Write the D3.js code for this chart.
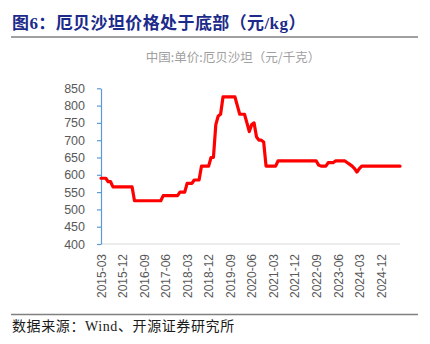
<!DOCTYPE html>
<html>
<head>
<meta charset="utf-8">
<script src="https://cdn.jsdelivr.net/npm/d3@7/dist/d3.min.js"></script>
<style>
  html, body { margin: 0; padding: 0; background: #fff; }
  svg { display: block; }
</style>
</head>
<body>
<svg id="chart" width="430" height="344"></svg>
<script>
// ---- data ----
const startMonth = "2015-03";
const values = [
  590, 590, 590, 580, 580,
  565, 565, 565, 565, 565, 565, 565, 565, 565,
  525, 525, 525, 525, 525, 525, 525, 525, 525, 525, 525, 525,
  540, 540, 540, 540, 540, 540, 540,
  550, 550, 550,
  575, 575, 575,
  585, 585, 585,
  625, 625, 625, 625,
  650, 650,
  745, 770, 775, 825,
  825, 825, 825, 825, 825,
  800, 775, 775, 775,
  750, 725, 745, 750, 710,
  700, 700, 695, 625,
  625, 625, 625, 625,
  640, 640, 640, 640, 640, 640, 640, 640, 640, 640, 640, 640, 640, 640, 640, 640, 640,
  628, 625, 625, 625,
  635, 635, 635,
  640, 640, 640, 640, 640,
  635, 630, 625, 618, 608, 618,
  625, 625, 625, 625, 625, 625, 625, 625, 625, 625, 625, 625, 625, 625, 625, 625, 625
];
const xTickLabels = ["2015-03","2015-12","2016-09","2017-06","2018-03","2018-12","2019-09",
                     "2020-06","2021-03","2021-12","2022-09","2023-06","2024-03","2024-12"];
const yTicks = [400, 450, 500, 550, 600, 650, 700, 750, 800, 850];
const titleText = "图6：厄贝沙坦价格处于底部（元/kg）";
const subtitleText = "中国:单价:厄贝沙坦（元/千克）";
const sourceText = "数据来源：Wind、开源证券研究所";

// categories (months)
const fmt = d3.timeFormat("%Y-%m");
const parse = d3.timeParse("%Y-%m");
const s0 = parse(startMonth);
const months = values.map((v, i) => fmt(d3.timeMonth.offset(s0, i)));
const data = months.map((m, i) => ({ m, v: values[i] }));

// ---- layout ----
const svg = d3.select("#chart");
const pL = 101, pR = 400, pT = 88.3, pB = 244;

const x = d3.scalePoint().domain(months).range([pL, pR]);
const y = d3.scaleLinear().domain([400, 850]).range([pB, pT]);

// title
svg.append("text")
  .attr("x", 12).attr("y", 29)
  .attr("font-family", "'Liberation Serif', 'Noto Sans CJK SC', serif")
  .attr("font-weight", "bold")
  .attr("font-size", 17)
  .attr("letter-spacing", 0.4)
  .attr("fill", "#1c2a8a")
  .text(titleText);

svg.append("line")
  .attr("x1", 11).attr("x2", 418).attr("y1", 37).attr("y2", 37)
  .attr("stroke", "#808080").attr("stroke-width", 1.6);

// subtitle
svg.append("text")
  .attr("x", 233).attr("y", 62)
  .attr("text-anchor", "middle")
  .attr("font-family", "'Noto Sans CJK SC', sans-serif")
  .attr("font-size", 12.5)
  .attr("fill", "#a0a0a0")
  .text(subtitleText);

// x axis baseline
svg.append("line")
  .attr("x1", pL).attr("x2", pR).attr("y1", pB).attr("y2", pB)
  .attr("stroke", "#d9d9d9").attr("stroke-width", 1);

// x tick labels
const xAxis = d3.axisBottom(x).tickValues(xTickLabels).tickSize(0).tickPadding(0);
const gx = svg.append("g").attr("transform", `translate(0,${pB})`).call(xAxis);
gx.select(".domain").remove();
gx.selectAll("text")
  .attr("font-family", "'Liberation Sans', Arial, sans-serif")
  .attr("font-size", 12)
  .attr("fill", "#595959")
  .attr("text-anchor", "end")
  .attr("dy", "0.35em")
  .attr("y", 0)
  .attr("transform", "translate(0,10) rotate(-90)");

// y axis
const yAxis = d3.axisLeft(y).tickValues(yTicks).tickSize(4).tickSizeOuter(0).tickPadding(12);
const gy = svg.append("g").attr("transform", `translate(${pL},0)`).call(yAxis);
gy.select(".domain").attr("stroke", "#5b9bd5").attr("stroke-width", 1.2);
gy.selectAll(".tick line").attr("stroke", "#5b9bd5").attr("stroke-width", 1.2);
gy.selectAll("text")
  .attr("font-family", "'Liberation Sans', Arial, sans-serif")
  .attr("font-size", 12.5)
  .attr("fill", "#595959");

// line
const line = d3.line().x(d => x(d.m)).y(d => y(d.v));
svg.append("path")
  .datum(data)
  .attr("d", line)
  .attr("fill", "none")
  .attr("stroke", "#ff0000")
  .attr("stroke-width", 3.2)
  .attr("stroke-linejoin", "round")
  .attr("stroke-linecap", "round");

// footer
svg.append("line")
  .attr("x1", 11).attr("x2", 418).attr("y1", 314.5).attr("y2", 314.5)
  .attr("stroke", "#808080").attr("stroke-width", 1.6);

svg.append("text")
  .attr("x", 12).attr("y", 331)
  .attr("font-family", "'Liberation Serif', 'Noto Sans CJK SC', serif")
  .attr("font-size", 14)
  .attr("letter-spacing", 0.6)
  .attr("fill", "#1a1a1a")
  .text(sourceText);
</script>
</body>
</html>
